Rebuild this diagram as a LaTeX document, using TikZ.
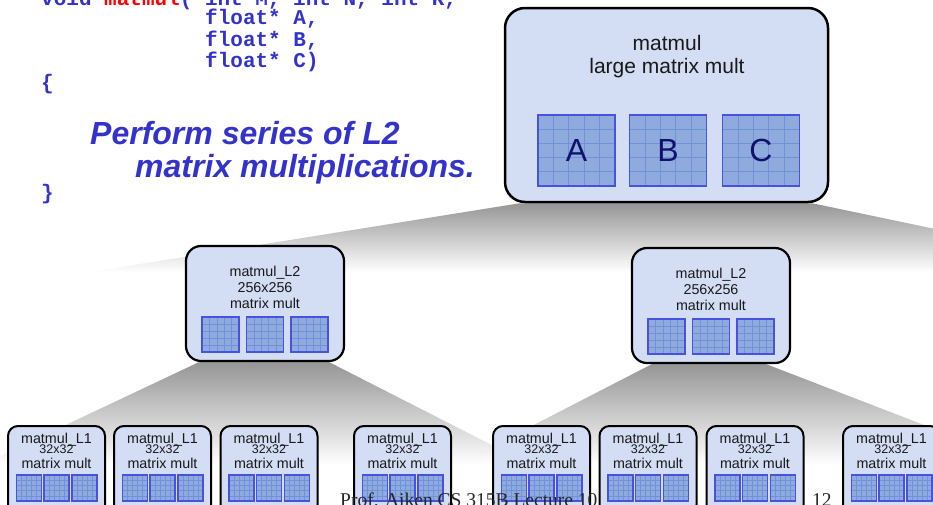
\documentclass[tikz,border=0pt]{standalone}
\usepackage{fontspec}
\setmainfont{Liberation Sans}
\newfontfamily\codefont{Liberation Mono}
\newfontfamily\footfont{Liberation Serif}
\usepackage{tikz}
\usetikzlibrary{calc}
\usetikzlibrary{backgrounds}

\definecolor{boxfill}{RGB}{211,221,244}
\definecolor{tilefill}{RGB}{143,170,220}
\definecolor{tileedge}{RGB}{72,82,222}
\definecolor{tilegrid}{RGB}{112,146,218}
\definecolor{codeblue}{RGB}{51,51,204}
\definecolor{letterblue}{RGB}{16,16,110}
\definecolor{fangray}{RGB}{150,150,150}

\tikzset{
  lvlbox/.style = {draw=black, fill=boxfill, inner sep=0pt},
  tile/.style = {draw=tileedge, fill=tilefill, inner sep=0pt, text=letterblue,
    font=\fontsize{32}{32}\selectfont,
    path picture={
      \foreach \f in {0.2,0.4,0.6,0.8} {
        \draw [tilegrid, line width=#1]
          ($(path picture bounding box.south west)!\f!(path picture bounding box.south east)$) --
          ($(path picture bounding box.north west)!\f!(path picture bounding box.north east)$)
          ($(path picture bounding box.south west)!\f!(path picture bounding box.north west)$) --
          ($(path picture bounding box.south east)!\f!(path picture bounding box.north east)$);
      }}},
  code/.style = {anchor=base west, inner sep=0pt, text=codeblue,
    font=\codefont\bfseries\fontsize{21}{22}\selectfont},
  note/.style = {anchor=base west, inner sep=0pt, text=codeblue,
    font=\bfseries\itshape\fontsize{32}{33}\selectfont},
  lbl/.style = {anchor=base, inner sep=0pt, text=black!90},
  fan/.style = {top color=fangray, bottom color=white},
  foot/.style = {anchor=base west, inner sep=0pt, text=black!85,
    font=\footfont\fontsize{19.5}{20}\selectfont}
}

\begin{document}
\begin{tikzpicture}[x=1pt, y=-1pt]
\useasboundingbox (0,0) rectangle (933,504);
\clip (0,0) rectangle (933,504);

% source code
\node [code] (sig) at (41,5) {void \textcolor{red}{matmul}( int M, int N, int K,};
\node [code] (argA) at (205,24.3) {float* A,};
\node [code] (argB) at (205,46) {float* B,};
\node [code] (argC) at (205,67.8) {float* C)};
\node [code] (open) at (41,89) {\{};
\node [code] (close) at (41,199.5) {\}};
\node [note] (perf1) at (90,144) {Perform series of L2};
\node [note] (perf2) at (135,177) {matrix multiplications.};

% top level
\node [lvlbox, rounded corners=20pt, line width=2.5pt, minimum width=323pt, minimum height=194pt] (mm) at (666.5,105) {};
\node [lbl, font=\fontsize{21}{21}\selectfont] (mmname) at (667,50) {matmul};
\node [lbl, font=\fontsize{21}{21}\selectfont] (mmdesc) at (667,73.5) {large matrix mult};
\node [tile=0.8pt, line width=1.8pt, minimum width=77pt, minimum height=71pt] (mmA) at (576.5,150.5) {A};
\node [tile=0.8pt, line width=1.8pt, minimum width=77pt, minimum height=71pt] (mmB) at (668,150.5) {B};
\node [tile=0.8pt, line width=1.8pt, minimum width=77pt, minimum height=71pt] (mmC) at (761,150.5) {C};

% L2 level
\foreach \n/\cx/\cy in {a/265/303.5, b/711/305.5} {
  \node [lvlbox, rounded corners=15pt, line width=2.2pt, minimum width=158pt, minimum height=115pt] (l2\n) at (\cx,\cy) {};
  \node [lbl, font=\fontsize{14.3}{14}\selectfont] (l2name\n) at (\cx,\cy-27.5) {matmul\_L2};
  \node [lbl, font=\fontsize{14.3}{14}\selectfont] (l2size\n) at (\cx,\cy-11.5) {256x256};
  \node [lbl, font=\fontsize{14.3}{14}\selectfont] (l2desc\n) at (\cx,\cy+4.5) {matrix mult};
  \foreach \dx [count=\k] in {-44.5,0,44.5}
    \node [tile=0.5pt, line width=1.5pt, minimum width=37pt, minimum height=35pt] (l2t\n-\k) at ({\cx+\dx},\cy+31) {};
}

% L1 level
\foreach \cx [count=\i] in {56.5,162.5,269,402.5,541.5,648,755,891.5} {
  \node [lvlbox, rounded corners=10pt, line width=2pt, minimum width=97pt, minimum height=89pt] (l1\i) at (\cx,470.5) {};
  \node [lbl, font=\fontsize{14.3}{14}\selectfont] (l1name\i) at (\cx,443) {matmul\_L1};
  \node [lbl, font=\fontsize{12.5}{12}\selectfont] (l1size\i) at (\cx,453) {32x32};
  \node [lbl, font=\fontsize{14.3}{14}\selectfont] (l1desc\i) at (\cx,468) {matrix mult};
  \foreach \dx [count=\k] in {-27.5,0,28}
    \node [tile=0.4pt, line width=1.3pt, minimum width=25pt, minimum height=26pt] (l1t\i-\k) at ({\cx+\dx},488) {};
}

% fans behind the boxes
\coordinate (topL) at (90,272);
\coordinate (topR) at (1141,272);
\coordinate (l2aL) at (-19,465);
\coordinate (l2aR) at (531,465);
\coordinate (l2bL) at (456,465);
\coordinate (l2bR) at (1028,465);
\begin{scope}[on background layer]
\shade [fan] ($(mm.south west)+(16,0)$) -- ($(mm.south east)+(-17,0)$) -- (topR) -- (topL) -- cycle;
\shade [fan] ($(l2a.south west)+(14,0)$) -- ($(l2a.south east)+(-16,0)$) -- (l2aR) -- (l2aL) -- cycle;
\shade [fan] ($(l2b.south west)+(21,0)$) -- ($(l2b.south east)+(-25,0)$) -- (l2bR) -- (l2bL) -- cycle;
\end{scope}

% footer
\node [foot] (credit) at (340,506) {Prof. Aiken CS 315B Lecture 10};
\node [foot] (page) at (812,506) {12};
\end{tikzpicture}
\end{document}
